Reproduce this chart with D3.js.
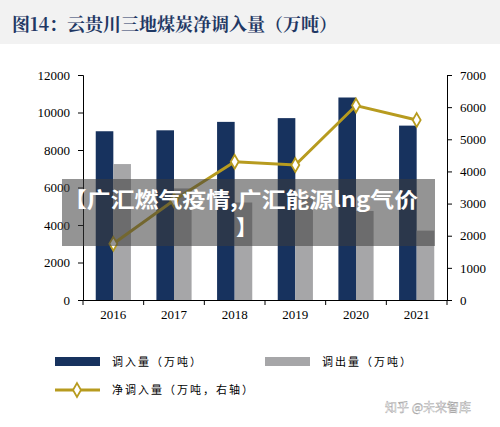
<!DOCTYPE html><html><head><meta charset="utf-8"><script src="https://cdn.jsdelivr.net/npm/d3@7"></script>
<style>body{margin:0;background:#fff}svg{font-family:"Liberation Serif","Noto Sans CJK SC",serif}</style></head><body><svg id="c" width="500" height="427"></svg><script>
const years=["2016","2017","2018","2019","2020","2021"];
const inflow=[9000,9050,9500,9700,10800,9300];
const outflow=[7250,5950,5200,5500,4750,3700];
const net=[1750,3100,4300,4200,6050,5600];
const leftTicks=[0,2000,4000,6000,8000,10000,12000];
const rightTicks=[0,1000,2000,3000,4000,5000,6000,7000];
const svg=d3.select("#c");
svg.append("rect").attr("width",500).attr("height",44).attr("fill","#f2f2f2");
svg.append("text").attr("x",12).attr("y",31).attr("font-size",18).attr("font-weight","bold").attr("fill","#1f3864").attr("font-family","Noto Serif CJK SC, Noto Sans CJK SC").text("图14：云贵川三地煤炭净调入量（万吨）");
const L=83,R=447,T=75,B=300;
const x=d3.scaleBand().domain(years).range([L,R]).paddingInner(0.42).paddingOuter(0.21);
const yl=d3.scaleLinear().domain([0,12000]).range([B,T]);
const yr=d3.scaleLinear().domain([0,7000]).range([B,T]);
const bw=x.bandwidth()/2;
svg.selectAll(".bi").data(years).join("rect").attr("x",d=>x(d)).attr("y",(d,i)=>yl(inflow[i])).attr("width",bw).attr("height",(d,i)=>B-yl(inflow[i])).attr("fill","#17325e");
svg.selectAll(".bo").data(years).join("rect").attr("x",d=>x(d)+bw).attr("y",(d,i)=>yl(outflow[i])).attr("width",bw).attr("height",(d,i)=>B-yl(outflow[i])).attr("fill","#a6a6a8");
const ax=svg.append("g").attr("transform",`translate(0,${B})`).call(d3.axisBottom(x).tickSize(0).tickPadding(10));
ax.select(".domain").attr("stroke","#000");
ax.selectAll("text").attr("font-size",13).attr("fill","#000").attr("font-family","Liberation Serif");
ax.selectAll(".sep").data(d3.range(7)).join("line").attr("x1",i=>L+i*(R-L)/6).attr("x2",i=>L+i*(R-L)/6).attr("y1",0).attr("y2",5).attr("stroke","#000");
const al=svg.append("g").attr("transform",`translate(${L},0)`).call(d3.axisLeft(yl).tickValues(leftTicks).tickSize(5).tickFormat(d3.format("d")));
const ar=svg.append("g").attr("transform",`translate(${R},0)`).call(d3.axisRight(yr).tickValues(rightTicks).tickSize(5).tickFormat(d3.format("d")));
[al,ar].forEach(a=>{a.selectAll("text").attr("font-size",13).attr("fill","#000").attr("font-family","Liberation Serif");a.select(".domain").attr("stroke","#000");});
al.selectAll("text").attr("x",-13);ar.selectAll("text").attr("x",13);
const cx=d=>x(d)+x.bandwidth()/2;
svg.append("path").datum(years).attr("fill","none").attr("stroke","#b79b1f").attr("stroke-width",3)
 .attr("d",d3.line().x(cx).y((d,i)=>yr(net[i])));
svg.selectAll(".pt").data(years).join("path").attr("transform",(d,i)=>`translate(${cx(d)},${yr(net[i])})`)
 .attr("d",d3.symbol(d3.symbolDiamond,55)).attr("fill","#fff").attr("stroke","#b79b1f").attr("stroke-width",1.8);
const lg=svg.append("g").attr("font-family","Noto Sans CJK SC").attr("font-size",11);
lg.append("rect").attr("x",55).attr("y",357).attr("width",45).attr("height",9).attr("fill","#17325e");
lg.append("text").attr("x",112).attr("y",366).attr("letter-spacing",2).text("调入量（万吨）");
lg.append("rect").attr("x",265).attr("y",357).attr("width",45).attr("height",9).attr("fill","#a6a6a8");
lg.append("text").attr("x",322).attr("y",366).attr("letter-spacing",2).text("调出量（万吨）");
lg.append("line").attr("x1",55).attr("x2",100).attr("y1",390).attr("y2",390).attr("stroke","#b79b1f").attr("stroke-width",3);
lg.append("path").attr("transform","translate(77,390)").attr("d",d3.symbol(d3.symbolDiamond,55)).attr("fill","#fff").attr("stroke","#b79b1f").attr("stroke-width",1.8);
lg.append("text").attr("x",112).attr("y",394).attr("letter-spacing",2).text("净调入量（万吨，右轴）");
svg.append("rect").attr("x",62).attr("y",179).attr("width",373).attr("height",67).attr("fill","rgba(60,60,60,0.55)");
svg.append("text").attr("x",63).attr("y",207).attr("font-size",21).attr("font-weight","bold").attr("fill","#fff").attr("font-family","Noto Sans CJK SC").attr("textLength",355).attr("lengthAdjust","spacingAndGlyphs").text("【广汇燃气疫情,广汇能源lng气价");
svg.append("text").attr("x",236).attr("y",235).attr("font-size",21).attr("font-weight","bold").attr("fill","#fff").attr("font-family","Noto Sans CJK SC").text("】");
svg.append("text").attr("x",385).attr("y",412).attr("font-size",12).attr("fill","#fff").attr("stroke","#999").attr("stroke-width",0.4).attr("font-family","Noto Sans CJK SC").text("知乎 @未来智库");
</script></body></html>
